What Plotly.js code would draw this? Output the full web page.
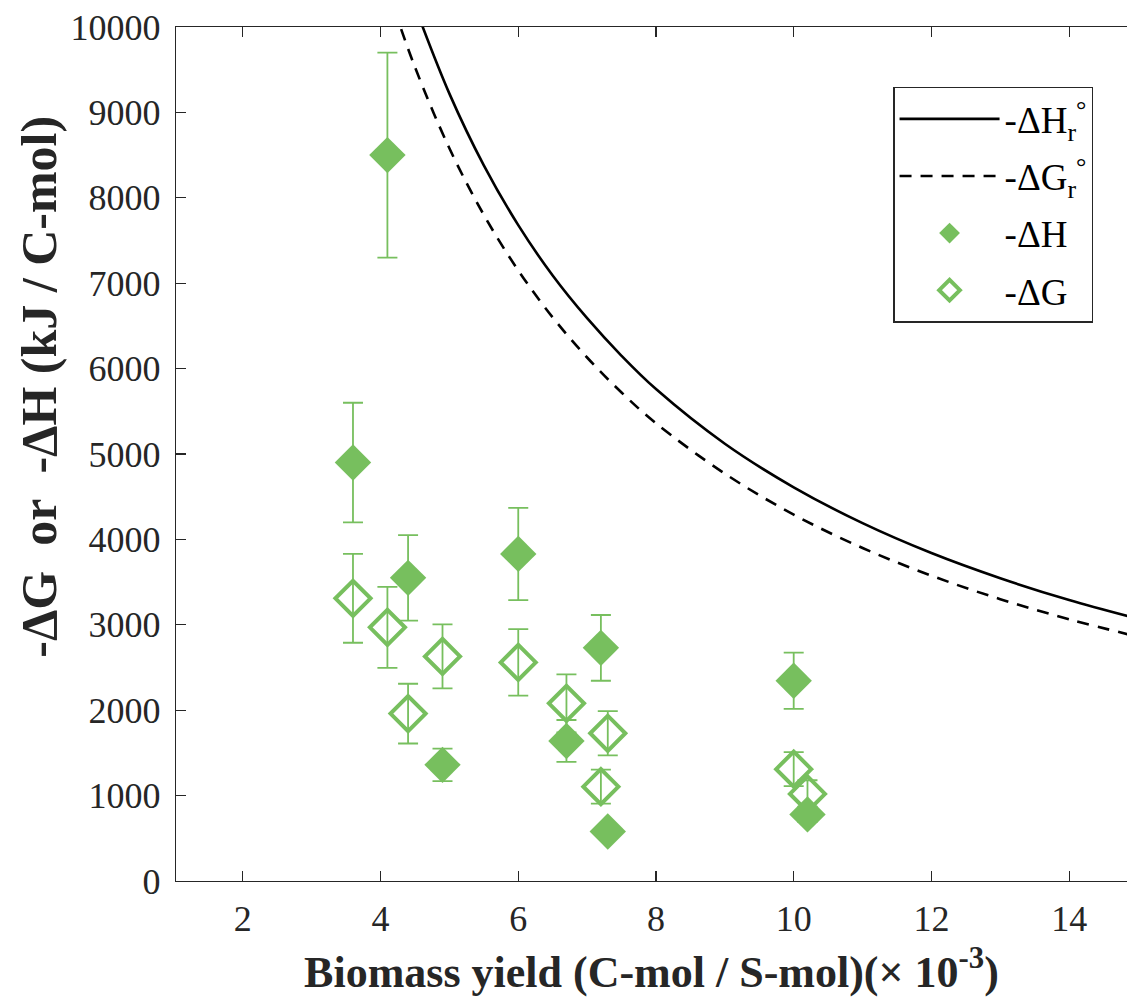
<!DOCTYPE html>
<html>
<head>
<meta charset="utf-8">
<script src="https://cdn.plot.ly/plotly-3.0.1.min.js"></script>
<style>
  html, body { margin: 0; padding: 0; background: #ffffff; }
  #chart { width: 1127px; height: 1003px; }
</style>
</head>
<body>
<div id="chart"></div>
<script>
// Biomass yield (x 10^-3 C-mol / S-mol) for each culture
const yieldX = [3.6, 4.1, 4.4, 4.9, 6.0, 6.7, 7.2, 7.3, 10.0, 10.2];

// Measured -ΔH and its uncertainty (kJ / C-mol)
const dH    = [4900, 8500, 3550, 1360, 3830, 1640, 2730, 580, 2345, 780];
const dHErr = [700, 1200, 500, 190, 540, 245, 385, 60, 330, 90];

// Measured -ΔG and its uncertainty (kJ / C-mol)
const dG    = [3310, 2970, 1960, 2630, 2560, 2080, 1105, 1730, 1310, 1020];
const dGErr = [520, 475, 350, 375, 390, 340, 200, 260, 200, 160];

// Standard reaction enthalpy curve (-ΔH_r°)
const curveHX = [4.5, 5, 5.5, 6, 6.5, 7, 7.5, 8, 9, 10, 11, 12, 13, 14, 15];
const curveHY = [10240, 9220, 8380, 7680, 7090, 6590, 6150, 5760, 5120, 4610, 4190, 3840, 3545, 3290, 3070];

// Standard reaction Gibbs energy curve (-ΔG_r°)
const curveGX = [4.2, 4.5, 5, 5.5, 6, 6.5, 7, 7.5, 8, 9, 10, 11, 12, 13, 14, 15];
const curveGY = [10210, 9530, 8580, 7800, 7150, 6600, 6130, 5720, 5360, 4770, 4290, 3900, 3575, 3300, 3065, 2860];

const xTicks = [2, 4, 6, 8, 10, 12, 14];
const yTicks = [0, 1000, 2000, 3000, 4000, 5000, 6000, 7000, 8000, 9000, 10000];

const green = '#77bf5e';
const ink = '#262626';
const serif = '"Liberation Serif", serif';

const traces = [
  {
    x: curveHX, y: curveHY, type: 'scatter', mode: 'lines',
    name: '-ΔH<sub>r</sub><sup>°</sup>',
    line: { color: '#000000', width: 2.6, shape: 'spline' },
    legendgroup: 'a', legendrank: 1
  },
  {
    x: curveGX, y: curveGY, type: 'scatter', mode: 'lines',
    name: '-ΔG<sub>r</sub><sup>°</sup>',
    line: { color: '#000000', width: 2.6, dash: '12px,9px', shape: 'spline' },
    legendgroup: 'b', legendrank: 2
  },
  {
    x: yieldX, y: dG, type: 'scatter', mode: 'markers',
    name: '-ΔG',
    marker: { symbol: 'diamond-open', size: 27, color: green, line: { color: green, width: 4 } },
    error_y: { type: 'data', array: dGErr, visible: true, color: green, thickness: 1.8, width: 10 },
    legendgroup: 'd', legendrank: 4
  },
  {
    x: yieldX, y: dH, type: 'scatter', mode: 'markers',
    name: '-ΔH',
    marker: { symbol: 'diamond', size: 28, color: green, line: { width: 0 } },
    error_y: { type: 'data', array: dHErr, visible: true, color: green, thickness: 1.8, width: 10 },
    legendgroup: 'c', legendrank: 3
  }
];

const layout = {
  width: 1127,
  height: 1003,
  margin: { l: 176, r: 0, t: 27, b: 122 },
  paper_bgcolor: '#ffffff',
  plot_bgcolor: '#ffffff',
  font: { family: serif, color: ink, size: 36 },
  showlegend: true,
  legend: {
    x: 0.754, y: 0.93, xanchor: 'left', yanchor: 'top',
    bgcolor: '#ffffff', bordercolor: ink, borderwidth: 1.5,
    font: { family: serif, size: 37, color: '#000000' },
    itemwidth: 100,
    traceorder: 'grouped',
    tracegroupgap: 6
  },
  xaxis: {
    range: [1.03, 14.84],
    tickvals: xTicks,
    ticktext: xTicks.map(String),
    ticks: 'inside', ticklen: 10, tickwidth: 1.3, tickcolor: ink,
    showline: true, linecolor: ink, linewidth: 1.3, mirror: 'ticks',
    showgrid: false, zeroline: false,
    tickfont: { family: serif, size: 36, color: ink },
    ticklabelstandoff: 5,
    title: {
      text: 'Biomass yield (C-mol / S-mol)(× 10<sup>-3</sup>)',
      font: { family: serif, size: 44, color: ink, weight: 'bold' },
      standoff: 18
    }
  },
  yaxis: {
    range: [0, 10000],
    tickvals: yTicks,
    ticktext: yTicks.map(String),
    ticks: 'inside', ticklen: 10, tickwidth: 1.3, tickcolor: ink,
    showline: true, linecolor: ink, linewidth: 1.3, mirror: false,
    showgrid: false, zeroline: false,
    tickfont: { family: serif, size: 36, color: ink },
    ticklabelstandoff: 7
  },
  annotations: [
    {
      text: '-ΔG\u00a0\u00a0or\u00a0\u00a0-ΔH (kJ / C-mol)',
      xref: 'paper', yref: 'paper',
      x: -0.145, y: 0.579, xanchor: 'center', yanchor: 'middle',
      textangle: -90, showarrow: false,
      font: { family: serif, size: 50, color: ink, weight: 'bold' }
    }
  ]
};

Plotly.newPlot('chart', traces, layout, { displayModeBar: false, staticPlot: true });
</script>
</body>
</html>
